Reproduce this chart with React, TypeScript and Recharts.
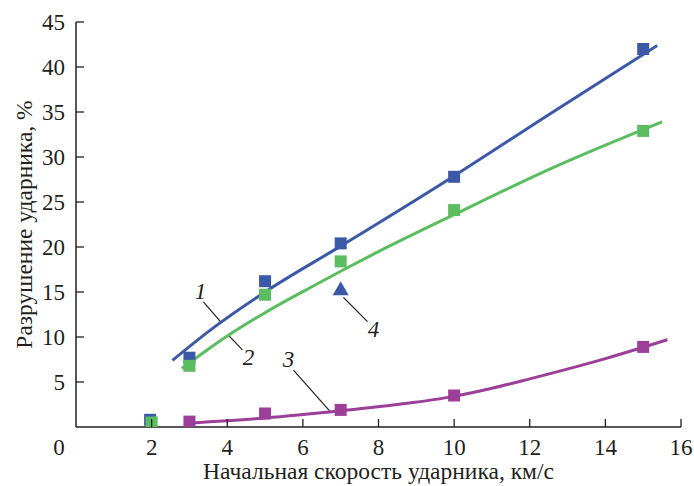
import React from "react";
import {
  ComposedChart,
  Line,
  Scatter,
  XAxis,
  YAxis,
  ReferenceLine,
  ReferenceDot,
  Label,
} from "recharts";

// ---- data ----
const xTicks = [0, 2, 4, 6, 8, 10, 12, 14, 16];
const yTicks = [5, 10, 15, 20, 25, 30, 35, 40, 45];

const blueSquares = [
  { x: 1.96, y: 0.8 },
  { x: 3, y: 7.7 },
  { x: 5, y: 16.2 },
  { x: 7, y: 20.4 },
  { x: 10, y: 27.8 },
  { x: 15, y: 42.0 },
];
const greenSquares = [
  { x: 2, y: 0.5 },
  { x: 3, y: 6.8 },
  { x: 5, y: 14.7 },
  { x: 7, y: 18.4 },
  { x: 10, y: 24.1 },
  { x: 15, y: 32.9 },
];
const purpleSquares = [
  { x: 3, y: 0.6 },
  { x: 5, y: 1.5 },
  { x: 7, y: 1.9 },
  { x: 10, y: 3.5 },
  { x: 15, y: 8.9 },
];
const blueTriangle = [{ x: 7, y: 15.3 }];

const curve1 = [
  { x: 2.55, y: 7.4 },
  { x: 3.5, y: 10.6 },
  { x: 5, y: 15.0 },
  { x: 7, y: 20.1 },
  { x: 10, y: 27.9 },
  { x: 12.5, y: 34.7 },
  { x: 15.37, y: 42.4 },
];
const curve2 = [
  { x: 2.8, y: 6.5 },
  { x: 4.0, y: 10.1 },
  { x: 5, y: 12.7 },
  { x: 6.2, y: 15.5 },
  { x: 7, y: 17.3 },
  { x: 8.1, y: 19.7 },
  { x: 10, y: 23.6 },
  { x: 12.5, y: 28.6 },
  { x: 15.5, y: 33.9 },
];
const curve3 = [
  { x: 3.0, y: 0.45 },
  { x: 5, y: 1.0 },
  { x: 7, y: 1.8 },
  { x: 8.5, y: 2.5 },
  { x: 10, y: 3.4 },
  { x: 11, y: 4.3 },
  { x: 12, y: 5.35 },
  { x: 14, y: 7.6 },
  { x: 15.64, y: 9.7 },
];

// curve labels and leader lines (data coordinates)
const curveLabels = [
  { text: "1", x: 3.29, y: 15.0 },
  { text: "2", x: 4.56, y: 7.7 },
  { text: "3", x: 5.62, y: 7.5 },
  { text: "4", x: 7.87, y: 10.8 },
];
const leaders = [
  { x1: 3.37, y1: 13.9, x2: 3.82, y2: 11.7 },
  { x1: 4.03, y1: 10.2, x2: 4.4, y2: 8.56 },
  { x1: 5.75, y1: 6.33, x2: 6.73, y2: 1.67 },
  { x1: 7.07, y1: 14.4, x2: 7.71, y2: 11.7 },
];

const xTitle = "Начальная скорость ударника, км/с";
const yTitle = "Разрушение ударника, %";

// ---- styles ----
const BLUE = "#3c59a8";
const GREEN = "#5bbd5f";
const PURPLE = "#9c3f98";
const AXIS = "#231f20";
const FONT = "'Liberation Serif', 'Times New Roman', serif";
const FS = 23;
const textStyle = { fontFamily: FONT, fontSize: FS };
const titleStyle = { fontFamily: FONT, fontSize: 23.5 };

const XTick = (props: any) => {
  const { x, y, payload } = props;
  const v = payload.value;
  return (
    <g>
      {v !== 0 && (
        <line x1={x} x2={x} y1={y} y2={y - 8} stroke={AXIS} strokeWidth={1.3} />
      )}
      <text
        x={v === 0 ? x - 17 : x}
        y={y + 28}
        textAnchor="middle"
        style={textStyle}
        fill={AXIS}
      >
        {v}
      </text>
    </g>
  );
};

const YTick = (props: any) => {
  const { x, y, payload } = props;
  return (
    <g>
      <line x1={x} x2={x + 8} y1={y} y2={y} stroke={AXIS} strokeWidth={1.3} />
      <text x={x - 11} y={y + 8} textAnchor="end" style={textStyle} fill={AXIS}>
        {payload.value}
      </text>
    </g>
  );
};

const Square = (color: string) => (p: any) => (
  <rect x={p.cx - 6} y={p.cy - 6} width={12} height={12} fill={color} />
);

const Triangle = (p: any) => (
  <polygon
    points={`${p.cx},${p.cy - 8} ${p.cx - 8},${p.cy + 6} ${p.cx + 8},${p.cy + 6}`}
    fill={BLUE}
  />
);

const LabelText = (text: string) => (p: any) => (
  <text
    x={p.cx}
    y={p.cy + 7}
    textAnchor="middle"
    style={{ ...textStyle, fontStyle: "italic" }}
    fill={AXIS}
  >
    {text}
  </text>
);

export default function App() {
  return (
    <div
      style={{
        position: "absolute",
        left: 0,
        top: 0,
        background: "#fff",
        fontFamily: FONT,
      }}
    >
      <ComposedChart
        width={694}
        height={486}
        margin={{ top: 22, right: 13, left: 0, bottom: 0 }}
        style={{ fontFamily: FONT }}
      >
        <XAxis
          type="number"
          dataKey="x"
          domain={[0, 16]}
          ticks={xTicks}
          allowDataOverflow
          tickSize={0}
          tickMargin={0}
          tickLine={false}
          tick={<XTick />}
          height={59}
          axisLine={{ stroke: AXIS, strokeWidth: 1.5 }}
          interval={0}
        >
          <Label
            value={xTitle}
            position="insideBottom"
            offset={7}
            style={titleStyle}
            fill={AXIS}
          />
        </XAxis>
        <YAxis
          type="number"
          dataKey="y"
          domain={[0, 45]}
          ticks={yTicks}
          allowDataOverflow
          tickSize={0}
          tickMargin={0}
          tickLine={false}
          tick={<YTick />}
          width={76}
          axisLine={{ stroke: AXIS, strokeWidth: 1.5 }}
          interval={0}
        >
          <Label
            value={yTitle}
            position="center"
            angle={-90}
            dx={-14}
            style={titleStyle}
            fill={AXIS}
          />
        </YAxis>

        {leaders.map((l, i) => (
          <ReferenceLine
            key={"l" + i}
            segment={[
              { x: l.x1, y: l.y1 },
              { x: l.x2, y: l.y2 },
            ]}
            stroke={AXIS}
            strokeWidth={1.2}
          />
        ))}

        <Line data={curve1} dataKey="y" type="monotone" stroke={BLUE} strokeWidth={3} dot={false} isAnimationActive={false} />
        <Line data={curve2} dataKey="y" type="monotone" stroke={GREEN} strokeWidth={3} dot={false} isAnimationActive={false} />
        <Line data={curve3} dataKey="y" type="monotone" stroke={PURPLE} strokeWidth={3} dot={false} isAnimationActive={false} />

        <Scatter data={blueSquares} dataKey="y" shape={Square(BLUE)} isAnimationActive={false} />
        <Scatter data={greenSquares} dataKey="y" shape={Square(GREEN)} isAnimationActive={false} />
        <Scatter data={purpleSquares} dataKey="y" shape={Square(PURPLE)} isAnimationActive={false} />
        <Scatter data={blueTriangle} dataKey="y" shape={Triangle} isAnimationActive={false} />

        {curveLabels.map((c, i) => (
          <ReferenceDot key={"c" + i} x={c.x} y={c.y} r={0} shape={LabelText(c.text)} />
        ))}
      </ComposedChart>
    </div>
  );
}
